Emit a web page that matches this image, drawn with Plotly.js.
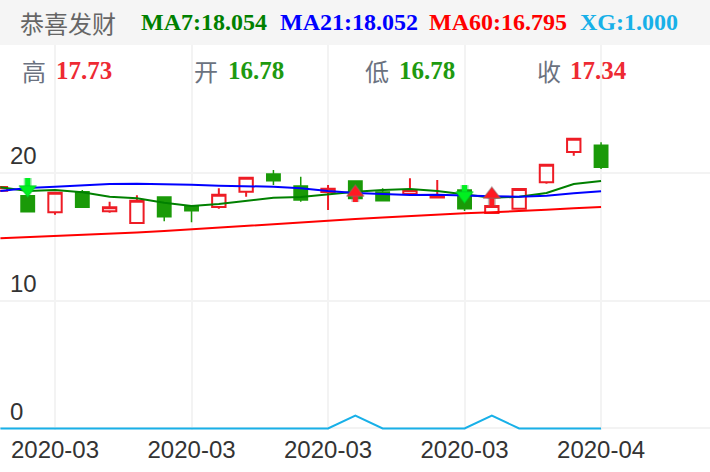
<!DOCTYPE html>
<html><head><meta charset="utf-8">
<script src="https://cdn.plot.ly/plotly-3.0.1.min.js"></script>
<style>html,body{margin:0;padding:0;background:#fff}#c{width:710px;height:472px}</style></head>
<body><div id="c"></div>
<script>
const idx=[0,1,2,3,4,5,6,7,8,9,10,11,12,13,14,15,16,17,18,19,20,21,22];
const opens=[18.6,18.22,16.92,18.53,16.99,16.08,18.11,17.35,17.33,18.53,19.91,18.97,18.5,19.37,18.5,18.35,18.08,18.66,16.86,17.2,19.26,21.63,22.16];
const closes=[18.9,16.96,18.45,17.31,17.31,17.82,16.57,17.04,18.29,19.62,19.39,17.88,18.76,18.0,17.82,18.64,18.12,17.2,17.41,18.74,20.64,22.68,20.44];
const highs=[18.9,18.22,18.45,18.66,17.75,18.25,18.11,17.49,18.8,19.62,20.23,19.7,19.05,19.37,18.8,19.58,19.45,18.66,17.41,18.74,20.64,22.68,22.39];
const lows=[18.6,16.96,16.73,17.31,16.89,16.08,16.21,16.13,17.2,18.14,19.05,17.75,17.1,18.0,17.82,18.25,18.06,17.02,16.86,17.2,19.15,21.35,20.3];
const ma7=[18.87,18.58,18.66,18.48,18.14,18.01,17.67,17.41,17.57,17.83,18.06,18.11,18.3,18.53,18.66,18.74,18.58,18.33,18.05,18.14,18.43,19.13,19.37];
const ma21=[18.58,18.82,18.92,19.05,19.13,19.16,19.13,19.08,19.0,18.97,18.92,18.8,18.58,18.43,18.33,18.27,18.3,18.22,18.17,18.14,18.22,18.4,18.56];
const ma60=[14.88,14.96,15.06,15.14,15.23,15.33,15.45,15.59,15.69,15.87,15.98,16.16,16.29,16.39,16.51,16.63,16.74,16.84,16.92,17.0,17.11,17.24,17.33];
const xg=[0,0,0,0,0,0,0,0,0,0,0,0,0,1,0,0,0,0,1,0,0,0,0];
const tickIdx=[2,7,12,17,22];
const tickText=['2020-03','2020-03','2020-03','2020-03','2020-04'];
const downX=[1,17], downTail=[19.6,19.05], downHead=[18.7,18.23];
const upX=[13,18], upTail=[17.72,17.41], upHead=[18.47,18.31];
const name='恭喜发财';
const legendItems=[['MA7:18.054','#008000',140],['MA21:18.052','#0000ff',279],['MA60:16.795','#ff0000',428],['XG:1.000','#18b0e8',579]];
const quoteLabels=[['高',21],['开',193],['低',364],['收',536]];
const quoteValues=[['17.73','#ee2a33',55],['16.78','#1e9a10',227],['16.78','#1e9a10',398],['17.34','#ee2a33',569]];

function seg(xs,a,b){const X=[],Y=[];xs.forEach((x,i)=>{X.push(x,x,null);Y.push(a[i],b[i],null);});return{X,Y};}
const dn=seg(downX,downTail,downHead), up=seg(upX,upTail,upHead);
const H=472,W=710,T=45,B=42,PH=H-T-B;
function ln(y,c,w){return {type:'scatter',mode:'lines',x:idx,y:y,line:{color:c,width:w},hoverinfo:'skip'};}
const traces=[
 {type:'candlestick',x:idx,open:opens,high:highs,low:lows,close:closes,width:0.52,whiskerwidth:0,
  increasing:{line:{color:'#ee1c25',width:2},fillcolor:'rgba(255,255,255,0)'},
  decreasing:{line:{color:'#1a9a08',width:1.5},fillcolor:'#1a9a08'},hoverinfo:'skip'},
 ln(ma7,'#008000',2),ln(ma21,'#0000ff',2),ln(ma60,'#ff0000',2),
 {type:'scatter',mode:'lines',x:idx,y:xg,line:{color:'#18b0e8',width:2},hoverinfo:'skip'},
 {type:'scatter',mode:'lines',x:up.X,y:up.Y,line:{color:'rgba(130,110,110,0.45)',width:8},hoverinfo:'skip'},
 {type:'scatter',mode:'lines',x:up.X,y:up.Y,line:{color:'#ff1a22',width:5},hoverinfo:'skip'},
 {type:'scatter',mode:'markers',x:upX,y:upHead,marker:{symbol:'triangle-up',size:15,color:'#ff1a22',line:{color:'rgba(130,110,110,0.45)',width:1.5}},hoverinfo:'skip'},
 {type:'scatter',mode:'lines',x:dn.X,y:dn.Y,line:{color:'rgba(0,200,40,0.4)',width:8},hoverinfo:'skip'},
 {type:'scatter',mode:'lines',x:dn.X,y:dn.Y,line:{color:'#00f020',width:5},hoverinfo:'skip'},
 {type:'scatter',mode:'markers',x:downX,y:downHead,marker:{symbol:'triangle-down',size:15,color:'#00f020',line:{color:'rgba(0,200,40,0.45)',width:1.5}},hoverinfo:'skip'}
];
const sans='"Liberation Sans",Arial,sans-serif', serif='"Liberation Serif","Times New Roman",serif', cjk='"Noto Sans CJK SC",sans-serif';
function note(t,x,y,size,color,fam,bold){return {text:bold?'<b>'+t+'</b>':t,xref:'paper',yref:'paper',x:x/W,y:1-(y-T)/PH,xanchor:'left',yanchor:'middle',showarrow:false,font:{size:size,color:color,family:fam},borderpad:0};}
const anns=[note(name,19,22,24,'#666666',cjk,false)];
legendItems.forEach(l=>anns.push(note(l[0],l[2],22,24,l[1],serif,true)));
quoteLabels.forEach(l=>anns.push(note(l[0],l[1],70,24,'#6b7280',cjk,false)));
quoteValues.forEach(l=>anns.push(note(l[0],l[2],70,25,l[1],serif,true)));
const layout={width:W,height:H,margin:{l:0,r:0,t:T,b:B,pad:0},paper_bgcolor:'#fff',plot_bgcolor:'#fff',showlegend:false,
 font:{family:sans,color:'#333'},
 xaxis:{type:'linear',range:[-0.015,25.99],rangeslider:{visible:false},tickmode:'array',tickvals:tickIdx,ticktext:tickText,
  showgrid:true,gridcolor:'#f3f3f3',gridwidth:2,zeroline:false,showline:false,ticks:'',tickfont:{size:24,color:'#333',family:sans},fixedrange:true,ticklabelstandoff:3},
 yaxis:{type:'linear',range:[-0.12,30.01],tickmode:'array',tickvals:[0,10,20],ticktext:['0','10','20'],
  ticklabelposition:'inside',ticklabelshift:-17,ticklabelstandoff:7,
  showgrid:true,gridcolor:'#f3f3f3',gridwidth:2,zeroline:false,showline:false,ticks:'',tickfont:{size:24,color:'#333',family:sans},fixedrange:true},
 shapes:[{type:'rect',xref:'paper',yref:'paper',x0:0,x1:1,y0:1,y1:1+T/PH,fillcolor:'#f5f5f5',line:{width:0},layer:'below'}],
 annotations:anns};
Plotly.newPlot('c',traces,layout,{displayModeBar:false,staticPlot:true});
</script></body></html>
